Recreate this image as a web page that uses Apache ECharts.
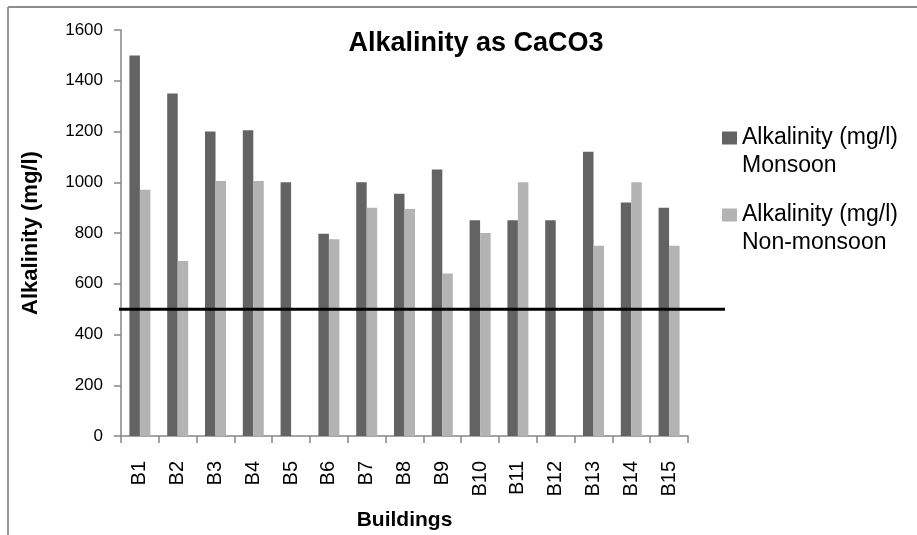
<!DOCTYPE html>
<html>
<head>
<meta charset="utf-8">
<script src="https://cdn.jsdelivr.net/npm/echarts@6/dist/echarts.min.js"></script>
<style>
  html, body { margin: 0; padding: 0; background: #fff; }
  #chart { width: 917px; height: 535px; }
</style>
</head>
<body>
<div id="chart"></div>
<script>
// Buildings sampled
const buildings = ['B1','B2','B3','B4','B5','B6','B7','B8','B9','B10','B11','B12','B13','B14','B15'];
// Alkalinity (mg/l) per building
const monsoon    = [1500, 1350, 1200, 1205, 1000, 797, 1000, 955, 1050, 850, 850, 850, 1120, 920, 900];
const nonMonsoon = [970, 690, 1005, 1005, 0, 775, 900, 895, 640, 800, 1000, 0, 750, 1000, 750];
// Permissible limit drawn as a horizontal rule
const limitValue = 500;
const limitLine = [[0, limitValue], [1, limitValue]];

const seriesNames = ['Alkalinity (mg/l)\nMonsoon', 'Alkalinity (mg/l)\nNon-monsoon'];

const FONT = '"Liberation Sans", Arial, sans-serif';
const AXIS_GREY = '#868686';

const chart = echarts.init(document.getElementById('chart'), null, { renderer: 'canvas' });

// A blank leading line keeps the swatch level with the first text line
const legendCommon = {
  orient: 'vertical',
  left: 717,
  itemWidth: 15,
  itemHeight: 13,
  icon: 'rect',
  selectedMode: false,
  formatter: name => ' \n' + name,
  textStyle: {
    fontFamily: FONT,
    fontSize: 23,
    color: '#000',
    lineHeight: 28
  }
};

chart.setOption({
  animation: false,
  backgroundColor: '#fff',
  title: {
    text: 'Alkalinity as CaCO3',
    left: 471,
    top: 25,
    textAlign: 'center',
    textStyle: { fontFamily: FONT, fontSize: 27, fontWeight: 'bold', color: '#000' }
  },
  legend: [
    Object.assign({}, legendCommon, { top: 91, data: [seriesNames[0]] }),
    Object.assign({}, legendCommon, { top: 168, data: [seriesNames[1]] })
  ],
  grid: [
    { left: 121, right: 229, top: 30, bottom: 99, outerBoundsMode: 'none', containLabel: false },
    { left: 119, right: 192, top: 30, bottom: 99, outerBoundsMode: 'none', containLabel: false }
  ],
  xAxis: [
    {
      type: 'category',
      gridIndex: 0,
      data: buildings,
      name: 'Buildings',
      nameLocation: 'middle',
      nameGap: 74,
      nameTextStyle: { fontFamily: FONT, fontSize: 21, fontWeight: 'bold', color: '#000' },
      axisLine: { lineStyle: { color: AXIS_GREY, width: 1.5 } },
      axisTick: { show: true, length: 7, lineStyle: { color: AXIS_GREY, width: 1.5 } },
      axisLabel: { rotate: 90, margin: 25, fontFamily: FONT, fontSize: 20, color: '#000' },
      splitLine: { show: false }
    },
    { type: 'value', gridIndex: 1, min: 0, max: 1, show: false }
  ],
  yAxis: [
    {
      type: 'value',
      gridIndex: 0,
      min: 0,
      max: 1600,
      interval: 200,
      name: 'Alkalinity (mg/l)',
      nameLocation: 'middle',
      nameGap: 79,
      nameTextStyle: { fontFamily: FONT, fontSize: 22, fontWeight: 'bold', color: '#000' },
      axisLine: { show: true, lineStyle: { color: AXIS_GREY, width: 1.5 } },
      axisTick: { show: true, length: 7, lineStyle: { color: AXIS_GREY, width: 1.5 } },
      axisLabel: { margin: 18, fontFamily: FONT, fontSize: 17, color: '#000', formatter: v => String(v) },
      splitLine: { show: false }
    },
    { type: 'value', gridIndex: 1, min: 0, max: 1600, show: false }
  ],
  series: [
    {
      name: seriesNames[0],
      type: 'bar',
      xAxisIndex: 0, yAxisIndex: 0,
      data: monsoon,
      barWidth: 10.5,
      barGap: '0%',
      itemStyle: { color: '#636363' }
    },
    {
      name: seriesNames[1],
      type: 'bar',
      xAxisIndex: 0, yAxisIndex: 0,
      data: nonMonsoon,
      barWidth: 10.5,
      barGap: '0%',
      itemStyle: { color: '#b3b3b3' }
    },
    {
      name: 'limit',
      type: 'line',
      xAxisIndex: 1, yAxisIndex: 1,
      data: limitLine,
      symbol: 'none',
      z: 10,
      silent: true,
      lineStyle: { color: '#000', width: 3 }
    }
  ],
  graphic: [
    { type: 'line', shape: { x1: 8, y1: 7, x2: 917, y2: 7 }, style: { stroke: '#8c8c8c', lineWidth: 2 } },
    { type: 'line', shape: { x1: 8, y1: 7, x2: 8, y2: 535 }, style: { stroke: '#999', lineWidth: 2 } }
  ]
});
</script>
</body>
</html>
